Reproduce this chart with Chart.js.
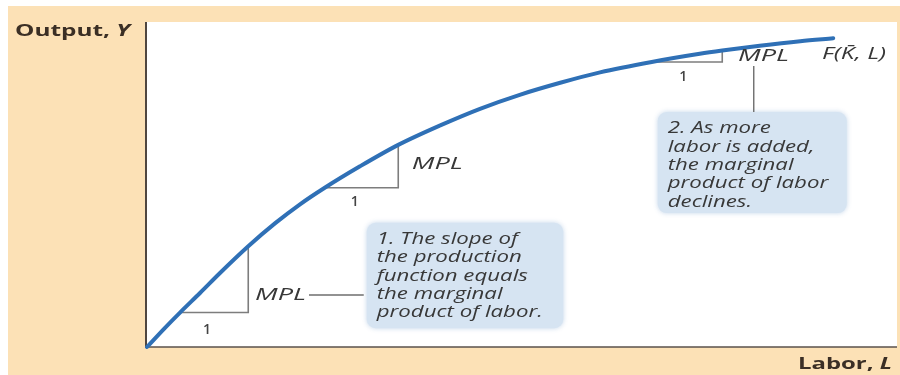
<!DOCTYPE html>
<html><head><meta charset="utf-8">
<script src="https://cdn.jsdelivr.net/npm/chart.js@4"></script>
<style>html,body{margin:0;padding:0;background:#fff;}#wrap{width:900px;height:375px;}</style>
</head><body><div id="wrap"><canvas id="c" width="900" height="375"></canvas></div>
<script>
// Production function F(K̄, L): labor and output
const laborL  = [0,2.4,4.4,7.1,9.7,13.5,17.1,20.4,23.7,28.4,33.5,39.1,44.4,49.7,55.1,60.4,67.3,73.7,76.7,81.7,87.1,91.5];
const outputY = [0,5.9,10.6,16.7,22.7,31.0,38.1,43.9,49.0,55.6,62.2,68.2,73.3,77.6,81.3,84.5,87.7,90.2,91.2,92.7,94.1,95.0];

// MPL triangles: run of one unit of labor, rise = MPL
const runStartL = [4.4, 23.7, 67.3];
const runEndL   = [13.5, 33.5, 76.7];
const runBaseY  = [10.6, 49.0, 87.7];
const riseTopY  = [31.0, 62.2, 91.2];

// Leader lines (from label to note)
const leaderStart = [{x:21.6,y:16.0},{x:80.9,y:86.5}];
const leaderEnd   = [{x:28.9,y:16.0},{x:80.9,y:72.3}];

// Texts
const yAxisTitle = ['Output, ', 'Y'];
const xAxisTitle = ['Labor, ', 'L'];
const curveLabel = 'F(K\u0304, L)';
const mplLabel = 'MPL';
const runLabel = '1';
const note1Lines = ['1. The slope of','the production','function equals','the marginal','product of labor.'];
const note2Lines = ['2. As more','labor is added,','the marginal','product of labor','declines.'];

// Annotation anchors (data units)
const mplAt = [{x:14.4,y:16.0},{x:35.3,y:56.3},{x:78.8,y:89.5}];
const oneAt = [{x:8.0,y:5.2},{x:27.7,y:44.6},{x:71.5,y:83.1}];
const curveLabelAt = {x:90.0,y:90.2};
const note1Box = {x0:29.3,x1:55.5,y0:38.2,y1:5.8};
const note2Box = {x0:68.1,x1:93.3,y0:72.3,y1:41.2};

const PEACH = '#fce1b6';
const TEXT = '#383838';

function stretched(ctx, parts, x, y, width, align) {
  let total = 0;
  parts.forEach(p => { ctx.font = p.font; total += ctx.measureText(p.t).width; });
  const s = width ? width / total : 1;
  ctx.save();
  ctx.translate(x, y);
  ctx.scale(s, 1);
  let cx = align === 'right' ? -total : 0;
  ctx.textBaseline = 'middle';
  ctx.textAlign = 'left';
  parts.forEach(p => { ctx.font = p.font; ctx.fillText(p.t, cx, 0); cx += ctx.measureText(p.t).width; });
  ctx.restore();
  return s;
}

function roundRect(ctx, x, y, w, h, r) {
  ctx.beginPath();
  ctx.moveTo(x + r, y);
  ctx.arcTo(x + w, y, x + w, y + h, r);
  ctx.arcTo(x + w, y + h, x, y + h, r);
  ctx.arcTo(x, y + h, x, y, r);
  ctx.arcTo(x, y, x + w, y, r);
  ctx.closePath();
}

const decor = {
  id: 'decor',
  beforeDraw(chart) {
    const ctx = chart.ctx, a = chart.chartArea;
    ctx.save();
    ctx.fillStyle = '#ffffff';
    ctx.fillRect(0, 0, chart.width, chart.height);
    ctx.fillStyle = PEACH;
    ctx.fillRect(8, 6, chart.width - 8, chart.height - 6);
    ctx.fillStyle = '#ffffff';
    ctx.fillRect(a.left, a.top, a.right - a.left, a.bottom - a.top);
    ctx.restore();
  },
  beforeDatasetsDraw(chart) {
    const ctx = chart.ctx, a = chart.chartArea, xs = chart.scales.x, ys = chart.scales.y;
    ctx.save();
    [note1Box, note2Box].forEach(b => {
      const x0 = xs.getPixelForValue(b.x0), x1 = xs.getPixelForValue(b.x1);
      const y0 = ys.getPixelForValue(b.y0), y1 = ys.getPixelForValue(b.y1);
      ctx.shadowColor = 'rgba(190,210,232,0.9)';
      ctx.shadowBlur = 5;
      ctx.fillStyle = '#d6e4f2';
      roundRect(ctx, x0, y0, x1 - x0, y1 - y0, 9);
      ctx.fill();
    });
    ctx.shadowBlur = 0;
    ctx.strokeStyle = '#4f4640';
    ctx.lineWidth = 2;
    ctx.beginPath();
    ctx.moveTo(a.left - 1, a.top);
    ctx.lineTo(a.left - 1, a.bottom + 1);
    ctx.stroke();
    ctx.lineWidth = 1.6;
    ctx.strokeStyle = '#5a514b';
    ctx.beginPath();
    ctx.moveTo(a.left - 2, a.bottom);
    ctx.lineTo(a.right, a.bottom);
    ctx.stroke();
    ctx.restore();
  },
  afterDatasetsDraw(chart) {
    const ctx = chart.ctx, xs = chart.scales.x, ys = chart.scales.y;
    const px = v => xs.getPixelForValue(v), py = v => ys.getPixelForValue(v);
    ctx.save();
    ctx.fillStyle = '#3b2f25';
    stretched(ctx, [{t:yAxisTitle[0], font:'bold 16px "Open Sans"'},{t:yAxisTitle[1], font:'italic bold 16px "Open Sans"'}], 15, 31, 115);
    stretched(ctx, [{t:xAxisTitle[0], font:'bold 16px "Open Sans"'},{t:xAxisTitle[1], font:'italic bold 16px "Open Sans"'}], 892, 364, 94, 'right');

    ctx.fillStyle = TEXT;
    const bodyFont = 'italic 17px "Open Sans"';
    ctx.font = bodyFont;
    const sBody = 166 / ctx.measureText('product of labor.').width;
    const drawNote = (lines, box) => {
      const x = px(box.x0) + 10, top = py(box.y0);
      lines.forEach((t, i) => { ctx.font = bodyFont; const w = ctx.measureText(t).width * sBody; stretched(ctx, [{t, font: bodyFont}], x, top + 16.5 + i * 18.3, w); });
    };
    drawNote(note1Lines, note1Box);
    drawNote(note2Lines, note2Box);

    mplAt.forEach(p => stretched(ctx, [{t:mplLabel, font:'italic 17px "Open Sans"'}], px(p.x), py(p.y), 51));
    stretched(ctx, [{t:curveLabel, font:'italic 17px "Open Sans"'}], px(curveLabelAt.x), py(curveLabelAt.y), 64);

    ctx.fillStyle = '#444444';
    ctx.font = '600 14px "Open Sans"';
    ctx.textAlign = 'center';
    ctx.textBaseline = 'middle';
    oneAt.forEach(p => ctx.fillText(runLabel, px(p.x), py(p.y)));
    ctx.restore();
  }
};

const datasets = [{
  data: laborL.map((l, i) => ({x: l, y: outputY[i]})),
  showLine: true, borderColor: '#2f70b6', borderWidth: 4, pointRadius: 0,
  cubicInterpolationMode: 'monotone', borderCapStyle: 'round', clip: 6
}];
runStartL.forEach((s, i) => datasets.push({
  data: [{x: s, y: runBaseY[i]}, {x: runEndL[i], y: runBaseY[i]}, {x: runEndL[i], y: riseTopY[i]}],
  showLine: true, borderColor: '#7d7d7d', borderWidth: 1.6, pointRadius: 0, tension: 0
}));
leaderStart.forEach((s, i) => datasets.push({
  data: [s, leaderEnd[i]],
  showLine: true, borderColor: '#6e6e6e', borderWidth: 1.4, pointRadius: 0, tension: 0
}));

new Chart(document.getElementById('c').getContext('2d'), {
  type: 'scatter',
  data: { datasets },
  options: {
    responsive: false, animation: false, devicePixelRatio: 1,
    layout: { padding: { left: 147, right: 3, top: 22, bottom: 28 } },
    plugins: { legend: { display: false }, tooltip: { enabled: false } },
    scales: {
      x: { type: 'linear', min: 0, max: 100, display: false },
      y: { type: 'linear', min: 0, max: 100, display: false }
    }
  },
  plugins: [decor]
});
</script>
</body></html>
